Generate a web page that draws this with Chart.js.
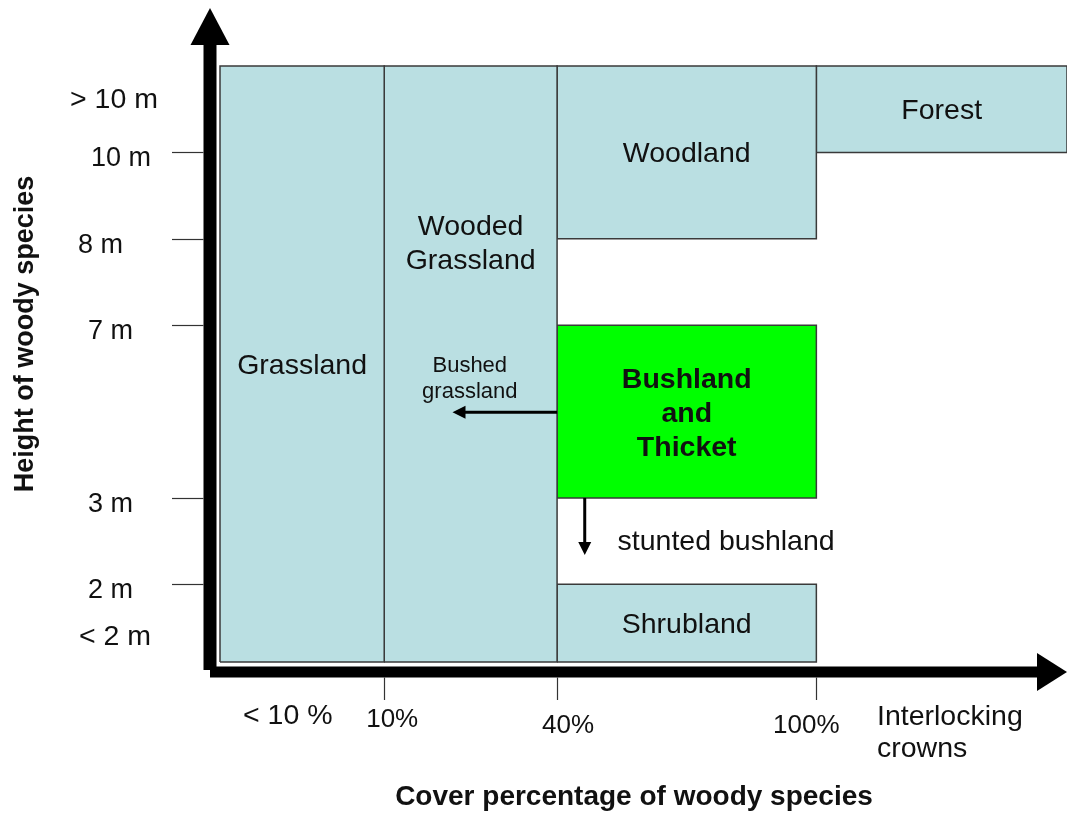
<!DOCTYPE html>
<html>
<head>
<meta charset="utf-8">
<script src="https://cdn.jsdelivr.net/npm/chart.js@4/dist/chart.umd.min.js"></script>
<style>
  html, body { margin: 0; padding: 0; background: #ffffff; }
  #wrap { position: relative; width: 1067px; height: 821px; }
</style>
</head>
<body>
<div id="wrap"><canvas id="c"></canvas></div>
<script>
// ---- Data (axis units: cover class position, height class position) ----
const zones      = ['Grassland', 'Wooded\nGrassland', 'Woodland', 'Forest', 'Bushland\nand\nThicket', 'Shrubland'];
const zoneX0     = [0,   1.9, 3.9, 6.9, 3.9, 3.9];
const zoneX1     = [1.9, 3.9, 6.9, 9.8, 6.9, 6.9];
const zoneY0     = [0,   0,   4.9, 5.9, 1.9, 0];
const zoneY1     = [6.9, 6.9, 6.9, 6.9, 3.9, 0.9];
const zoneHighlight = [false, false, false, false, true, false];

const heightTickValues = [5.9, 4.9, 3.9, 1.9, 0.9];
const heightTickLabels = ['10 m', '8 m', '7 m', '3 m', '2 m'];
const heightBandLabels = ['> 10 m', '< 2 m'];

const coverTickValues = [1.9, 3.9, 6.9];
const coverTickLabels = ['10%', '40%', '100%'];
const coverBandLabels = ['< 10 %', 'Interlocking\ncrowns'];

const yTitle = 'Height of woody species';
const xTitle = 'Cover percentage of woody species';

// ---- Layout / style (not data) ----
const FONT = '"Liberation Sans", Arial, Helvetica, sans-serif';
const BLUE = 'rgb(186,223,226)';
const GREEN = '#00ff00';
const EDGE = '#3a3a3a';

const datasets = zones.map((name, i) => ({
  label: name,
  data: [
    {x: zoneX0[i], y: zoneY0[i]},
    {x: zoneX1[i], y: zoneY0[i]},
    {x: zoneX1[i], y: zoneY1[i]},
    {x: zoneX0[i], y: zoneY1[i]},
    {x: zoneX0[i], y: zoneY0[i]}
  ],
  fill: 'shape',
  backgroundColor: zoneHighlight[i] ? GREEN : BLUE,
  borderColor: EDGE,
  borderWidth: 1.5,
  pointRadius: 0,
  tension: 0,
  clip: false
}));

function arrowHead(ctx, tx, ty, dx, dy, len, half) {
  const bx = tx - dx * len, by = ty - dy * len;
  ctx.beginPath();
  ctx.moveTo(tx, ty);
  ctx.lineTo(bx - dy * half, by + dx * half);
  ctx.lineTo(bx + dy * half, by - dx * half);
  ctx.closePath();
  ctx.fill();
}

const diagramPlugin = {
  id: 'diagram',
  afterDraw(chart) {
    const ctx = chart.ctx;
    const xs = chart.scales.x, ys = chart.scales.y;
    const ca = chart.chartArea;
    const X = v => xs.getPixelForValue(v);
    const Y = v => ys.getPixelForValue(v);
    ctx.save();

    // zone labels
    ctx.fillStyle = '#111';
    ctx.textAlign = 'center';
    ctx.textBaseline = 'alphabetic';
    zones.forEach((name, i) => {
      const lines = name.split('\n');
      const cx = X((zoneX0[i] + zoneX1[i]) / 2);
      let cyVal = (zoneY0[i] + zoneY1[i]) / 2;
      if (i === 1) cyVal = 4.86;
      const cy = Y(cyVal);
      const lh = 34;
      ctx.font = (zoneHighlight[i] ? 'bold ' : '') + '28.5px ' + FONT;
      lines.forEach((ln, k) => {
        const by = cy + 10 - (lines.length - 1) * lh / 2 + k * lh;
        ctx.fillText(ln, cx, by);
      });
    });

    // annotation arrows
    ctx.strokeStyle = '#000';
    ctx.fillStyle = '#000';
    ctx.lineWidth = 3;
    const ay = Y(2.89);
    ctx.beginPath(); ctx.moveTo(X(3.9), ay); ctx.lineTo(X(2.69) + 10, ay); ctx.stroke();
    arrowHead(ctx, X(2.69), ay, -1, 0, 13, 6.5);
    const ax = X(4.22);
    ctx.beginPath(); ctx.moveTo(ax, Y(1.9)); ctx.lineTo(ax, Y(1.24) - 10); ctx.stroke();
    arrowHead(ctx, ax, Y(1.24), 0, 1, 13, 6.5);

    ctx.fillStyle = '#111';
    ctx.font = '22px ' + FONT;
    ctx.textAlign = 'center';
    ctx.fillText('Bushed', X(2.89), Y(2.89) - 40);
    ctx.fillText('grassland', X(2.89), Y(2.89) - 14);
    ctx.font = '28.5px ' + FONT;
    ctx.textAlign = 'left';
    ctx.fillText('stunted bushland', X(4.6), Y(1.9) + 52);

    // axes (thick arrows)
    ctx.fillStyle = '#000';
    const axX = ca.left - 10;
    const axY = ca.bottom + 10;
    ctx.fillRect(axX - 6.5, 45, 13, axY - 2 - 45);
    arrowHead(ctx, axX, 8, 0, -1, 37, 19.5);
    ctx.fillRect(axX, axY - 5.5, 1037 - axX, 11);
    arrowHead(ctx, ca.right, axY, 1, 0, 30, 19);

    // tick marks
    ctx.strokeStyle = '#333';
    ctx.lineWidth = 1.2;
    heightTickValues.forEach(v => {
      const py = Math.round(Y(v)) + 0.5;
      ctx.beginPath(); ctx.moveTo(172, py); ctx.lineTo(axX - 6.5, py); ctx.stroke();
    });
    coverTickValues.forEach(v => {
      const px = Math.round(X(v)) + 0.5;
      ctx.beginPath(); ctx.moveTo(px, axY + 5.5); ctx.lineTo(px, axY + 28); ctx.stroke();
    });

    // tick labels
    ctx.fillStyle = '#111';
    ctx.font = '27px ' + FONT;
    ctx.textAlign = 'left';
    const hLeft = [91, 78, 88, 88, 88];
    heightTickLabels.forEach((t, i) => {
      ctx.fillText(t, hLeft[i], Y(heightTickValues[i]) + 14);
    });
    ctx.font = '28.5px ' + FONT;
    ctx.fillText(heightBandLabels[0], 70, Y(6.4) - 1);
    ctx.fillText(heightBandLabels[1], 79, Y(0.2) + 0);

    ctx.font = '26px ' + FONT;
    ctx.textAlign = 'center';
    const cOff = [8, 11, -10];
    const cBase = [727, 733, 733];
    coverTickLabels.forEach((t, i) => {
      ctx.fillText(t, X(coverTickValues[i]) + cOff[i], cBase[i]);
    });
    ctx.font = '28.5px ' + FONT;
    ctx.textAlign = 'left';
    ctx.fillText(coverBandLabels[0], 243, 724);
    const il = coverBandLabels[1].split('\n');
    ctx.fillText(il[0], 877, 725);
    ctx.fillText(il[1], 877, 757);

    // axis titles
    ctx.font = 'bold 28px ' + FONT;
    ctx.textAlign = 'center';
    ctx.fillText(xTitle, 634, 805);
    ctx.save();
    ctx.translate(33, 334);
    ctx.rotate(-Math.PI / 2);
    ctx.font = 'bold 27px ' + FONT;
    ctx.fillText(yTitle, 0, 0);
    ctx.restore();

    ctx.restore();
  }
};

new Chart(document.getElementById('c'), {
  type: 'line',
  data: { datasets },
  options: {
    responsive: true,
    maintainAspectRatio: false,
    animation: false,
    events: [],
    layout: { padding: { left: 220, right: 0, top: 66, bottom: 159 } },
    scales: {
      x: { type: 'linear', min: 0, max: 9.8, display: false },
      y: { type: 'linear', min: 0, max: 6.9, display: false }
    },
    plugins: { legend: { display: false }, tooltip: { enabled: false } }
  },
  plugins: [diagramPlugin]
});
</script>
</body>
</html>
